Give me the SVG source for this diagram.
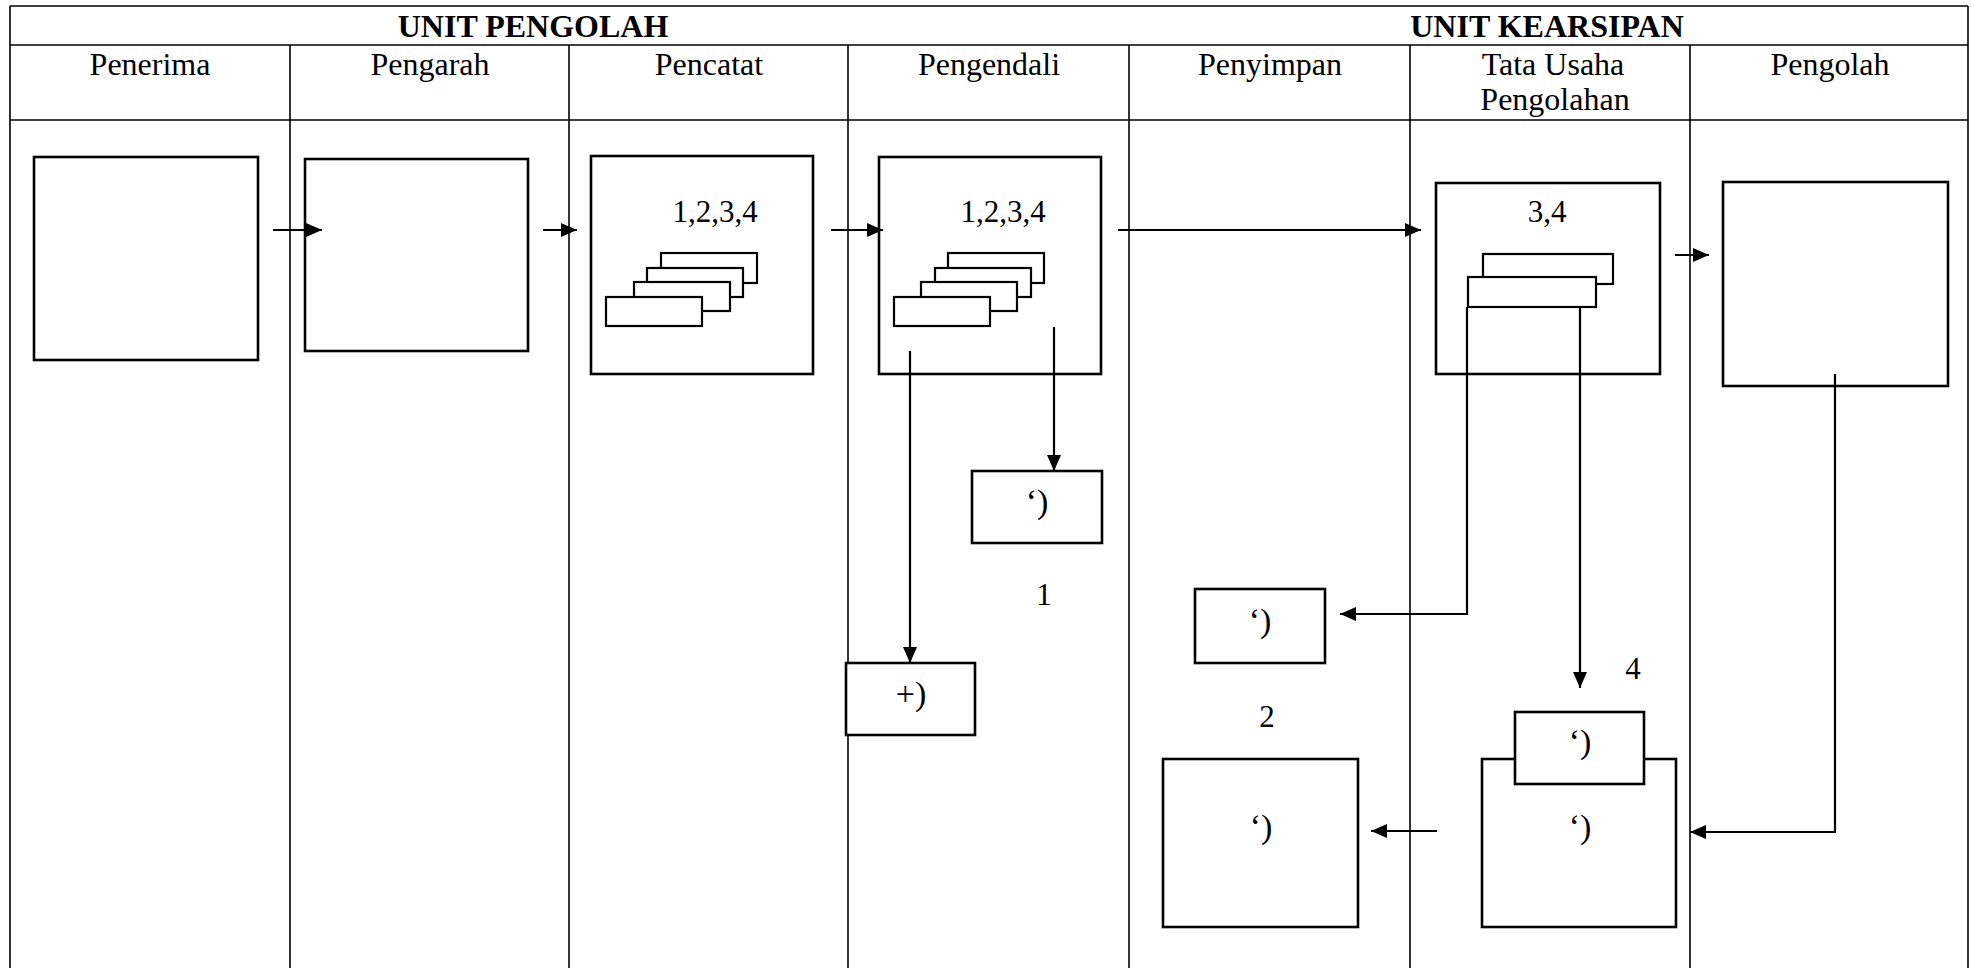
<svg xmlns="http://www.w3.org/2000/svg" width="1971" height="968" viewBox="0 0 1971 968">
<style>
.lane{stroke:#000;stroke-width:1.6;fill:none}
.box{fill:#fff;stroke:#000;stroke-width:2.6}
.doc{fill:#fff;stroke:#000;stroke-width:2.2}
.conn{stroke:#000;stroke-width:2.2;fill:none}
text{font-family:"Liberation Serif","Times New Roman",serif;fill:#000;text-anchor:middle}
.unit{font-size:32px;font-weight:bold}
.hdr{font-size:32px}
.lbl{font-size:31px}
.q{font-size:34px}
</style>
<defs>
<marker id="ah" viewBox="0 0 16 14" refX="16" refY="7" markerWidth="16" markerHeight="14" markerUnits="userSpaceOnUse" orient="auto">
<path d="M0,0 L16,7 L0,14 z" fill="#000"/>
</marker>
</defs>
<rect width="1971" height="968" fill="#fff"/>
<g id="table">
<line class="lane" x1="10" y1="6" x2="1968" y2="6"/>
<line class="lane" x1="10" y1="45" x2="1968" y2="45"/>
<line class="lane" x1="10" y1="120" x2="1968" y2="120"/>
<line class="lane" x1="10" y1="6" x2="10" y2="968"/>
<line class="lane" x1="1968" y1="6" x2="1968" y2="968"/>
<line class="lane" x1="290" y1="45" x2="290" y2="968"/>
<line class="lane" x1="569" y1="45" x2="569" y2="968"/>
<line class="lane" x1="848" y1="45" x2="848" y2="968"/>
<line class="lane" x1="1129" y1="45" x2="1129" y2="968"/>
<line class="lane" x1="1410" y1="45" x2="1410" y2="968"/>
<line class="lane" x1="1690" y1="45" x2="1690" y2="968"/>
<text class="unit" x="533" y="37">UNIT PENGOLAH</text>
<text class="unit" x="1547" y="37">UNIT KEARSIPAN</text>
<text class="hdr" x="150" y="75">Penerima</text>
<text class="hdr" x="430" y="75">Pengarah</text>
<text class="hdr" x="709" y="75">Pencatat</text>
<text class="hdr" x="989" y="75">Pengendali</text>
<text class="hdr" x="1270" y="75">Penyimpan</text>
<text class="hdr" x="1553" y="75">Tata Usaha</text>
<text class="hdr" x="1555" y="110">Pengolahan</text>
<text class="hdr" x="1830" y="75">Pengolah</text>
</g>
<g id="penerima">
<rect class="box" x="34" y="157" width="224" height="203"/>
</g>
<g id="pengarah">
<rect class="box" x="305" y="159" width="223" height="192"/>
</g>
<g id="pencatat">
<rect class="box" x="591" y="156" width="222" height="218"/>
<text class="lbl" x="715" y="222">1,2,3,4</text>
<rect class="doc" x="661" y="253" width="96" height="30"/>
<rect class="doc" x="647" y="268" width="96" height="29"/>
<rect class="doc" x="634" y="282" width="96" height="29"/>
<rect class="doc" x="606" y="297" width="96" height="29"/>
</g>
<g id="pengendali">
<rect class="box" x="879" y="157" width="222" height="217"/>
<text class="lbl" x="1003" y="222">1,2,3,4</text>
<rect class="doc" x="948" y="253" width="96" height="30"/>
<rect class="doc" x="935" y="268" width="96" height="29"/>
<rect class="doc" x="921" y="282" width="96" height="29"/>
<rect class="doc" x="894" y="297" width="96" height="29"/>
</g>
<g id="pengendali-arsip1">
<rect class="box" x="972" y="471" width="130" height="72"/>
<text class="q" x="1037" y="513">‘)</text>
<text class="lbl" x="1044" y="605">1</text>
</g>
<g id="pengendali-arsip-plus">
<rect class="box" x="846" y="663" width="129" height="72"/>
<text class="q" x="911" y="705">+)</text>
</g>
<g id="tatausaha">
<rect class="box" x="1436" y="183" width="224" height="191"/>
<text class="lbl" x="1547" y="222">3,4</text>
<rect class="doc" x="1483" y="254" width="130" height="30"/>
<rect class="doc" x="1468" y="277" width="128" height="30"/>
</g>
<g id="pengolah">
<rect class="box" x="1723" y="182" width="225" height="204"/>
</g>
<g id="penyimpan-arsip2">
<rect class="box" x="1195" y="589" width="130" height="74"/>
<text class="q" x="1260" y="632">‘)</text>
<text class="lbl" x="1267" y="727">2</text>
</g>
<g id="penyimpan-box">
<rect class="box" x="1163" y="759" width="195" height="168"/>
<text class="q" x="1261" y="838">‘)</text>
</g>
<g id="tatausaha-arsip4">
<rect class="box" x="1482" y="759" width="194" height="168"/>
<text class="q" x="1580" y="838">‘)</text>
<rect class="box" x="1515" y="712" width="129" height="72"/>
<text class="q" x="1580" y="753">‘)</text>
<text class="lbl" x="1633" y="679">4</text>
</g>
<g id="connectors">
<path class="conn" d="M273,230 H322" marker-end="url(#ah)"/>
<path class="conn" d="M543,230 H577" marker-end="url(#ah)"/>
<path class="conn" d="M831,230 H883" marker-end="url(#ah)"/>
<path class="conn" d="M1118,230 H1421" marker-end="url(#ah)"/>
<path class="conn" d="M1675,255 H1709" marker-end="url(#ah)"/>
<path class="conn" d="M1054,327 V471" marker-end="url(#ah)"/>
<path class="conn" d="M910,351 V663" marker-end="url(#ah)"/>
<path class="conn" d="M1467,307 V614 H1340" marker-end="url(#ah)"/>
<path class="conn" d="M1580,307 V688" marker-end="url(#ah)"/>
<path class="conn" d="M1835,374 V832 H1690" marker-end="url(#ah)"/>
<path class="conn" d="M1437,831 H1371" marker-end="url(#ah)"/>
</g>
</svg>
